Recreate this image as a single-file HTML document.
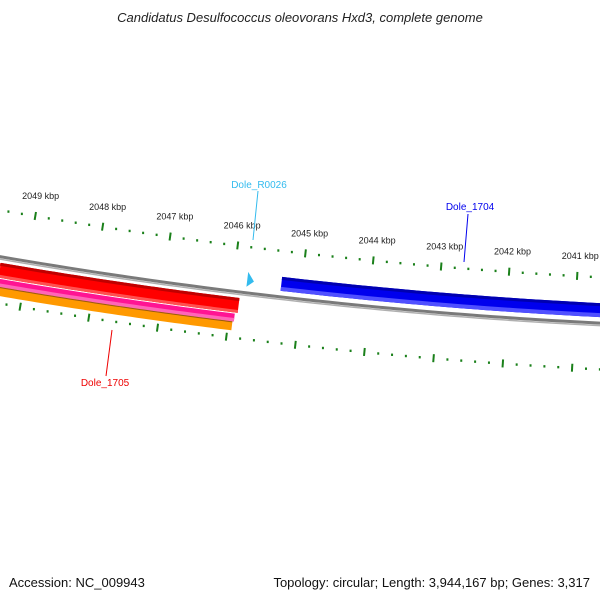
<!DOCTYPE html>
<html><head><meta charset="utf-8"><style>
body{margin:0;background:#fff}
svg{display:block;font-family:"Liberation Sans","DejaVu Sans",sans-serif}
</style></head><body>
<svg id="c" width="600" height="600" viewBox="0 0 600 600">
<rect width="600" height="600" fill="#fff"/>
<text x="300" y="22" text-anchor="middle" font-size="13" font-style="italic" fill="#222">Candidatus Desulfococcus oleovorans Hxd3, complete genome</text>
<text x="9" y="587" font-size="13" fill="#111">Accession: NC_009943</text>
<text x="590" y="587" font-size="13" fill="#111" text-anchor="end">Topology: circular; Length: 3,944,167 bp; Genes: 3,317</text>
<g id="g"></g>
</svg>
<script>
// data (kbp)
const majorTicks = [2049,2048,2047,2046,2045,2044,2043,2042,2041,2040];
const tickLabels = ["2049 kbp","2048 kbp","2047 kbp","2046 kbp","2045 kbp","2044 kbp","2043 kbp","2042 kbp","2041 kbp"];
const geneNames = ["Dole_1704","Dole_1705","Dole_R0026"];
const geneStart = [2039.0, 2045.88, 2045.80];
const geneEnd = [2045.30, 2049.38, 2045.70];

const CX=850, CY=-4670.6, PHI0=-0.1652, K=0.013763;
const NS="http://www.w3.org/2000/svg";
const G=document.getElementById('g');
function phi(bp){return PHI0+(2049-bp)*K;}
function pt(r,bp){const p=phi(bp);return [CX+r*Math.sin(p),CY+r*Math.cos(p)];}
function el(tag,attrs){const e=document.createElementNS(NS,tag);for(const k in attrs)e.setAttribute(k,attrs[k]);G.appendChild(e);return e;}
function arcPts(r,a,b,n){const o=[];for(let i=0;i<=n;i++){const bp=a+(b-a)*i/n;o.push(pt(r,bp));}return o;}
function bandPath(r1,r2,a,b){const p1=arcPts(r1,a,b,40),p2=arcPts(r2,b,a,40);return 'M'+p1.concat(p2).map(p=>p[0].toFixed(2)+','+p[1].toFixed(2)).join('L')+'Z';}
function arcD(r,a,b){return 'M'+arcPts(r,a,b,60).map(p=>p[0].toFixed(2)+','+p[1].toFixed(2)).join('L');}

// tick rings
[4954,5046].forEach((R,ri)=>{
  for(let i=0;i<majorTicks.length;i++){
    const m=majorTicks[i];
    const a=pt(R-4,m),b=pt(R+4,m);
    const t=el('line',{x1:a[0],y1:a[1],x2:b[0],y2:b[1],stroke:'#1a801a','stroke-width':2});
    
    
    for(let j=1;j<5;j++){
      const bp=m-j*0.2;const c=pt(R,bp);
      const d=el('rect',{x:c[0]-1,y:c[1]-1,width:2,height:2.4,fill:'#1a801a'});
      
      
    }
    // previous segment before first
    if(i===0){for(let j=1;j<5;j++){const c=pt(R,m+j*0.2);const d=el('rect',{x:c[0]-1,y:c[1]-1,width:2,height:2.4,fill:'#1a801a'});
      
      }}
  }
});
tickLabels.forEach((s,i)=>{
  const c=pt(4934,majorTicks[i]);
  const t=el('text',{x:c[0]+2,y:c[1]+3,'text-anchor':'middle','font-size':'9',fill:'#222'});
  t.textContent=s;
  
  
});

// backbone
let bb=el('path',{d:arcD(5000,2050,2038),fill:'none',stroke:'#7a7a7a','stroke-width':3});


let bb2=el('path',{d:arcD(5002.5,2050,2038),fill:'none',stroke:'#b0b0b0','stroke-width':1.5});



// blue gene Dole_1704
let b1=el('path',{d:bandPath(4980,4994,geneStart[0],geneEnd[0]),fill:'#0000ee'});


let b2=el('path',{d:bandPath(4980,4983,geneStart[0],geneEnd[0]),fill:'#0000b0'});


let b3=el('path',{d:bandPath(4990,4994,geneStart[0],geneEnd[0]),fill:'#5050ff'});



// red gene Dole_1705 with arrow tip
let r1=el('path',{d:bandPath(5006,5021,geneStart[1],geneEnd[1]),fill:'#ff0000'});


let r2=el('path',{d:bandPath(5006,5009,geneStart[1],geneEnd[1]),fill:'#c00000'});


let r3=el('path',{d:bandPath(5018,5021,geneStart[1],geneEnd[1]),fill:'#ff5050'});


{const a=pt(5006,geneEnd[1]),b=pt(5013.5,geneEnd[1]+0.12),c=pt(5021,geneEnd[1]);
 const tip=el('path',{d:`M${a[0]},${a[1]}L${b[0]},${b[1]}L${c[0]},${c[1]}Z`,fill:'#ee0000'});
 
 }
// pink and orange feature rows
let pk=el('path',{d:bandPath(5022,5030,geneStart[1]+0.04,2049.6),fill:'#ff1493'});


let pk2=el('path',{d:bandPath(5026.5,5030,geneStart[1]+0.04,2049.6),fill:'#ff66b8'});


let or=el('path',{d:bandPath(5030,5039,geneStart[1]+0.06,2049.6),fill:'#ff9900'});


let orl=el('path',{d:arcD(5030.5,geneStart[1]+0.06,2049.6),fill:'none',stroke:'#9a5a10','stroke-width':1});



// rRNA Dole_R0026 triangle
{const a=pt(4979,geneStart[2]),b=pt(4994,geneStart[2]),c=pt(4988,geneEnd[2]);
 const t=el('path',{d:`M${a[0]},${a[1]}L${b[0]},${b[1]}L${c[0]},${c[1]}Z`,fill:'#33bbee'});
 
 }

// gene labels
const lbls=[["Dole_1704",470,210,'#0000ee',468,214,464,262],["Dole_1705",105,386,'#ee0000',112,330,106,376],["Dole_R0026",259,188,'#33bbee',258,191,253,240]];
lbls.forEach(l=>{
  const ln=el('line',{x1:l[4],y1:l[5],x2:l[6],y2:l[7],stroke:l[3],'stroke-width':1});
  
  
  const t=el('text',{x:l[1],y:l[2],'text-anchor':'middle','font-size':'10',fill:l[3]});
  t.textContent=l[0];
  
  
});
</script>
</body></html>
